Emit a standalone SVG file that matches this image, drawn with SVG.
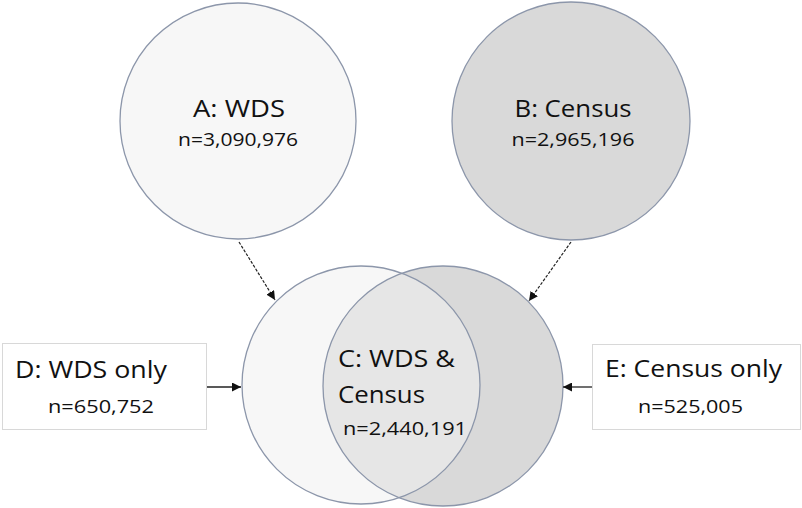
<svg xmlns="http://www.w3.org/2000/svg" width="802" height="508" viewBox="0 0 802 508">
<style>
text{font-family:"Open Sans","Noto Sans","Liberation Sans",sans-serif;fill:#111;}
.t{font-size:24px;}
.n{font-size:19px;}
.ring{stroke:#8c96aa;stroke-width:1.3;}
.box{fill:#fff;stroke:#d8d8d8;stroke-width:1;}
.dash{stroke:#222;stroke-width:1.2;stroke-dasharray:3,1.5;fill:none;}
.solid{stroke:#222;stroke-width:1.3;fill:none;}
</style>
<defs>
<marker id="ah" viewBox="0 0 10 10" refX="10" refY="5" markerWidth="9" markerHeight="9" markerUnits="userSpaceOnUse" orient="auto">
<path d="M0,0 L10,5 L0,10 z" fill="#111"/>
</marker>
<clipPath id="clipL"><circle cx="361" cy="385" r="119"/></clipPath>
</defs>
<g id="A">
<circle cx="238" cy="121" r="118" fill="#f7f7f7" class="ring"/>
<text class="t" x="239" y="117" text-anchor="middle" textLength="92" lengthAdjust="spacingAndGlyphs">A: WDS</text>
<text class="n" x="238" y="146" text-anchor="middle" textLength="120" lengthAdjust="spacingAndGlyphs">n=3,090,976</text>
</g>
<g id="B">
<circle cx="571" cy="121" r="119" fill="#d9d9d9" class="ring"/>
<text class="t" x="573" y="117" text-anchor="middle" textLength="117" lengthAdjust="spacingAndGlyphs">B: Census</text>
<text class="n" x="573" y="146" text-anchor="middle" textLength="123" lengthAdjust="spacingAndGlyphs">n=2,965,196</text>
</g>
<g id="C">
<circle cx="361" cy="385" r="119" fill="#f7f7f7"/>
<circle cx="443" cy="386" r="120" fill="#d9d9d9"/>
<circle cx="443" cy="386" r="120" fill="#e6e6e6" clip-path="url(#clipL)"/>
<circle cx="361" cy="385" r="119" fill="none" class="ring"/>
<circle cx="443" cy="386" r="120" fill="none" class="ring"/>
<text class="t" x="338" y="367" textLength="117" lengthAdjust="spacingAndGlyphs">C: WDS &amp;</text>
<text class="t" x="338" y="403" textLength="87" lengthAdjust="spacingAndGlyphs">Census</text>
<text class="n" x="343" y="435" textLength="124" lengthAdjust="spacingAndGlyphs">n=2,440,191</text>
</g>
<g id="D">
<rect class="box" x="2.5" y="343.5" width="204" height="86"/>
<text class="t" x="15" y="378" textLength="152" lengthAdjust="spacingAndGlyphs">D: WDS only</text>
<text class="n" x="48" y="413" textLength="106" lengthAdjust="spacingAndGlyphs">n=650,752</text>
</g>
<g id="E">
<rect class="box" x="592.5" y="344.5" width="208" height="85"/>
<text class="t" x="605" y="377" textLength="177" lengthAdjust="spacingAndGlyphs">E: Census only</text>
<text class="n" x="638" y="413" textLength="105" lengthAdjust="spacingAndGlyphs">n=525,005</text>
</g>
<g id="connectors">
<line class="dash" x1="239" y1="242" x2="275" y2="300" marker-end="url(#ah)"/>
<line class="dash" x1="571" y1="242" x2="529" y2="301" marker-end="url(#ah)"/>
<line class="solid" x1="207" y1="387" x2="241" y2="387" marker-end="url(#ah)"/>
<line class="solid" x1="592" y1="387" x2="563" y2="387" marker-end="url(#ah)"/>
</g>
</svg>
